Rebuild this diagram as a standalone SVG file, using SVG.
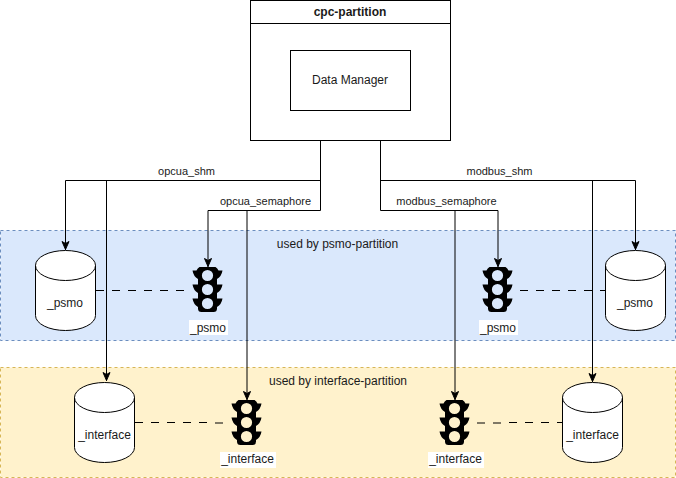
<svg xmlns="http://www.w3.org/2000/svg" width="676" height="478" viewBox="0 0 676 478">
<style>
text{font-family:"Liberation Sans",Arial,sans-serif;font-size:12px;fill:#1a1a1a;text-anchor:middle}
.s{font-size:11px}
.b{font-weight:bold}
.n{fill:#fff;stroke:#000;stroke-width:1}
.c{fill:none;stroke:#000;stroke-width:1}
.d{stroke-dasharray:8 8}
.w{fill:#fff}
</style>
<defs>
<marker id="a" markerUnits="userSpaceOnUse" markerWidth="12" markerHeight="12" refX="10" refY="6" orient="auto"><path d="M1.500 2.500L9.500 6L1.500 9.500L3.500 6Z" fill="#000" stroke="#000"/></marker>
<path id="light" fill="#000" fill-rule="evenodd" d="M-8 -22.500H8Q10 -21.500 11 -19H15Q14 -13 9.500 -10.500V-5H15Q14 1 9.500 3.500V9H15Q14 15 9.500 17.500V19Q9.500 22.500 6 22.500H-6Q-9.500 22.500 -9.500 19V17.500Q-14 15 -15 9H-9.500V3.500Q-14 1 -15 -5H-9.500V-10.500Q-14 -13 -15 -19H-11Q-10 -21.500 -8 -22.500ZM-5.600 -14A5.600 5.600 0 1 0 5.600 -14A5.600 5.600 0 1 0 -5.600 -14ZM-5.600 0A5.600 5.600 0 1 0 5.600 0A5.600 5.600 0 1 0 -5.600 0ZM-5.600 14A5.600 5.600 0 1 0 5.600 14A5.600 5.600 0 1 0 -5.600 14Z"/>
</defs>
<g id="band-psmo"><rect x="0.500" y="230.500" width="675" height="110" fill="#dae8fc" stroke="#6c8ebf" stroke-dasharray="3 3"/><text x="337.500" y="248">used by psmo-partition</text></g>
<g id="band-interface"><rect x="0.500" y="367.500" width="675" height="110" fill="#fff2cc" stroke="#d6b656" stroke-dasharray="3 3"/><text x="338" y="385">used by interface-partition</text></g>
<g id="connectors">
<path class="c" marker-end="url(#a)" d="M320.500 110V180.500H65.500V250"/>
<path class="c" marker-end="url(#a)" d="M320.500 180.500H106.500V381"/>
<path class="c" d="M320.500 110V210.500H208"/>
<path class="c" marker-end="url(#a)" d="M208 210.500V267"/>
<path class="c" marker-end="url(#a)" d="M247 210.500V400"/>
<path class="c" marker-end="url(#a)" d="M380.500 110V180.500H635.500V250"/>
<path class="c" marker-end="url(#a)" d="M380.500 180.500H592.500V382"/>
<path class="c" d="M380.500 110V210.500H498"/>
<path class="c" marker-end="url(#a)" d="M498 210.500V267"/>
<path class="c" marker-end="url(#a)" d="M455 210.500V400"/>
<path class="c d" d="M96 290.500H184.500"/>
<path class="c d" d="M520 290.500H606"/>
<path class="c d" d="M135 422.500H215"/>
<path class="c" d="M215 423H223"/>
<path class="c" d="M477 423H485M493 423H501"/>
<path class="c" stroke-dasharray="8 8" d="M509 422.500H563"/>
<text class="s" x="186.500" y="175">opcua_shm</text>
<text class="s" x="265.500" y="205">opcua_semaphore</text>
<text class="s" x="499.500" y="175">modbus_shm</text>
<text class="s" x="446.500" y="205">modbus_semaphore</text>
</g>
<g id="cpc-partition"><rect class="n" x="250.500" y="0.500" width="200" height="140"/><path class="c" d="M250.500 23.500H450.500"/><text class="b" x="350" y="16">cpc-partition</text></g>
<g id="data-manager"><rect class="n" x="290.500" y="50.500" width="120" height="60"/><text x="350" y="84">Data Manager</text></g>
<g id="db-psmo-left"><path class="n" d="M35.500 265.500A30 15 0 0 1 95.500 265.500V315.500A30 15 0 0 1 35.500 315.500Z"/><path class="c" d="M35.500 265.500A30 15 0 0 0 95.500 265.500"/><text x="65" y="307">_psmo</text></g>
<g id="db-psmo-right"><path class="n" d="M605.500 265.500A30 15 0 0 1 665.500 265.500V315.500A30 15 0 0 1 605.500 315.500Z"/><path class="c" d="M605.500 265.500A30 15 0 0 0 665.500 265.500"/><text x="635" y="307">_psmo</text></g>
<g id="db-interface-left"><path class="n" d="M74.500 397.500A30 15 0 0 1 134.500 397.500V447.500A30 15 0 0 1 74.500 447.500Z"/><path class="c" d="M74.500 397.500A30 15 0 0 0 134.500 397.500"/><text x="104.500" y="439">_interface</text></g>
<g id="db-interface-right"><path class="n" d="M562.500 397.500A30 15 0 0 1 622.500 397.500V447.500A30 15 0 0 1 562.500 447.500Z"/><path class="c" d="M562.500 397.500A30 15 0 0 0 622.500 397.500"/><text x="592.500" y="439">_interface</text></g>
<g id="light-psmo-left"><use href="#light" x="207.500" y="289.500"/><rect class="w" x="189" y="320" width="39" height="15"/><text x="208" y="331.500">_psmo</text></g>
<g id="light-psmo-right"><use href="#light" x="497.500" y="289.500"/><rect class="w" x="479" y="320" width="39" height="15"/><text x="498" y="331.500">_psmo</text></g>
<g id="light-interface-left"><use href="#light" x="246.500" y="422.500"/><rect class="w" x="220" y="452" width="56" height="16"/><text x="247.500" y="463">_interface</text></g>
<g id="light-interface-right"><use href="#light" x="454.500" y="422.500"/><rect class="w" x="428" y="452" width="56" height="16"/><text x="455.500" y="463">_interface</text></g>
</svg>
